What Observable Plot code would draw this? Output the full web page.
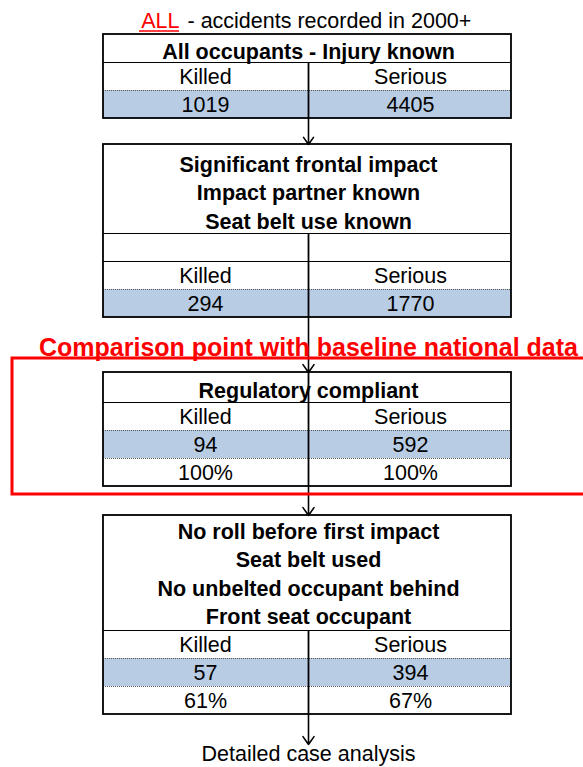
<!DOCTYPE html>
<html>
<head>
<meta charset="utf-8">
<script src="https://cdn.jsdelivr.net/npm/d3@7"></script>
<script src="https://cdn.jsdelivr.net/npm/@observablehq/plot@0.6"></script>
<style>
  html, body { margin: 0; padding: 0; background: #ffffff; }
  #chart svg { display: block; }
</style>
</head>
<body>
<div id="chart"></div>
<script>
// ---------- DATA ----------
const stages = [
  "All occupants - Injury known",
  "Significant frontal impact\nImpact partner known\nSeat belt use known",
  "Regulatory compliant",
  "No roll before first impact\nSeat belt used\nNo unbelted occupant behind\nFront seat occupant"
];
const columns = ["Killed", "Serious"];
const killed = [1019, 294, 94, 57];
const serious = [4405, 1770, 592, 394];
const killedPct = [null, null, 100, 61];
const seriousPct = [null, null, 100, 67];
const titleHighlight = "ALL";
const titleRest = "- accidents recorded in 2000+";
const baselineNote = "Comparison point with baseline national data";
const footerText = "Detailed case analysis";

// ---------- LAYOUT (pixel space) ----------
const W = 583, H = 767;
const L = {
  x1: 103, x2: 511, mid: 308, colX: [205, 410],
  tops: [34, 144, 372, 515],
  headerH: [28, 89, 30, 115],
  headerShift: [0, 1, 0, -1.5],
  blank: [false, true, false, false],
  dividerFromTop: [false, false, true, false],
  rowH: 28,
  lineGap: 28.5,
  frame: {x1: 12, x2: 600, y1: 358, y2: 494},
  noteY: 347,
  titleY: 20.5, titleSplit: 179, titleGap: 8, underlineY: 30.5, underlineX1: 139,
  footerY: 754, footerArrowEnd: 744
};
const blue = "#b8cce4";
const FS = 21.5;

const boxes = stages.map((s, i) => {
  const top = L.tops[i];
  const headerBottom = top + L.headerH[i];
  const blankBottom = L.blank[i] ? headerBottom + L.rowH : headerBottom;
  const labelsTop = blankBottom;
  const valuesTop = labelsTop + L.rowH;
  const hasPct = killedPct[i] != null;
  const pctTop = valuesTop + L.rowH;
  const bottom = hasPct ? pctTop + L.rowH : valuesTop + L.rowH;
  return {i, title: s, top, headerBottom, blankBottom, labelsTop, valuesTop, hasPct, pctTop, bottom};
});

const blueRows = boxes.map(b => ({y1: b.valuesTop, y2: b.valuesTop + L.rowH}));
const solidRules = boxes.flatMap(b => L.blank[b.i] ? [b.headerBottom, b.blankBottom] : [b.headerBottom]);
const dottedRules = boxes.flatMap(b => b.hasPct ? [b.valuesTop, b.pctTop] : [b.valuesTop]);
const dividers = boxes.map(b => ({y1: L.dividerFromTop[b.i] ? b.top : b.headerBottom, y2: b.bottom}));
const arrows = boxes.map((b, i) => ({
  y1: b.bottom,
  y2: i < boxes.length - 1 ? boxes[i + 1].top : L.footerArrowEnd
}));

const headerTexts = boxes.map(b => ({text: b.title, y: (b.top + b.headerBottom) / 2 + 1 + L.headerShift[b.i]}));
const cellTexts = boxes.flatMap(b => {
  const out = [];
  columns.forEach((c, j) => {
    out.push({x: L.colX[j], y: b.labelsTop + L.rowH / 2 + 0.5, text: c});
    const v = j === 0 ? killed[b.i] : serious[b.i];
    out.push({x: L.colX[j], y: b.valuesTop + L.rowH / 2 + 0.5, text: String(v)});
    if (b.hasPct) {
      const p = j === 0 ? killedPct[b.i] : seriousPct[b.i];
      out.push({x: L.colX[j], y: b.pctTop + L.rowH / 2 + 0.5, text: p + "%"});
    }
  });
  return out;
});

const chart = Plot.plot({
  width: W, height: H,
  margin: 0,
  x: {domain: [0, W], range: [0, W], axis: null},
  y: {domain: [0, H], range: [0, H], axis: null},
  style: {fontFamily: "'Liberation Sans', Arial, Helvetica, sans-serif", background: "#ffffff", color: "#000"},
  marks: [
    Plot.rect(blueRows, {x1: L.x1, x2: L.x2, y1: "y1", y2: "y2", fill: blue}),
    Plot.ruleY(dottedRules, {y: d => d, x1: L.x1, x2: L.x2, stroke: "#555", strokeWidth: 1.2, strokeDasharray: "1,1"}),
    Plot.ruleY(solidRules, {y: d => d, x1: L.x1, x2: L.x2, stroke: "#000", strokeWidth: 1.2}),
    Plot.ruleX(dividers, {x: L.mid, y1: "y1", y2: "y2", stroke: "#000", strokeWidth: 1.8}),
    Plot.rect(boxes, {x1: L.x1, x2: L.x2, y1: "top", y2: "bottom", fill: "none", stroke: "#000", strokeWidth: 1.8}),
    Plot.arrow(arrows, {x1: L.mid, x2: L.mid, y1: "y1", y2: "y2", stroke: "#000", strokeWidth: 1.6, headLength: 9, headAngle: 70}),
    Plot.rect([L.frame], {x1: "x1", x2: "x2", y1: "y1", y2: "y2", fill: "none", stroke: "#ff0000", strokeWidth: 3}),
    Plot.text(headerTexts, {x: L.mid, y: "y", text: "text", fontSize: FS, fontWeight: "bold", lineHeight: L.lineGap / FS, fill: "#000"}),
    Plot.text(cellTexts, {x: "x", y: "y", text: "text", fontSize: FS, fill: "#000"}),
    Plot.text([titleHighlight], {x: L.titleSplit, y: L.titleY, text: d => d, textAnchor: "end", fontSize: FS, fill: "#ff0000"}),
    Plot.ruleY([L.underlineY], {x1: L.underlineX1, x2: L.titleSplit, stroke: "#ff0000", strokeWidth: 1.5}),
    Plot.text([titleRest], {x: L.titleSplit + L.titleGap, y: L.titleY, text: d => d, textAnchor: "start", fontSize: FS, fill: "#000"}),
    Plot.text([baselineNote], {x: L.mid, y: L.noteY, text: d => d, fontSize: 25, fontWeight: "bold", fill: "#ff0000"}),
    Plot.text([footerText], {x: L.mid, y: L.footerY, text: d => d, fontSize: FS, fill: "#000"})
  ]
});
document.getElementById("chart").appendChild(chart);
</script>
</body>
</html>
